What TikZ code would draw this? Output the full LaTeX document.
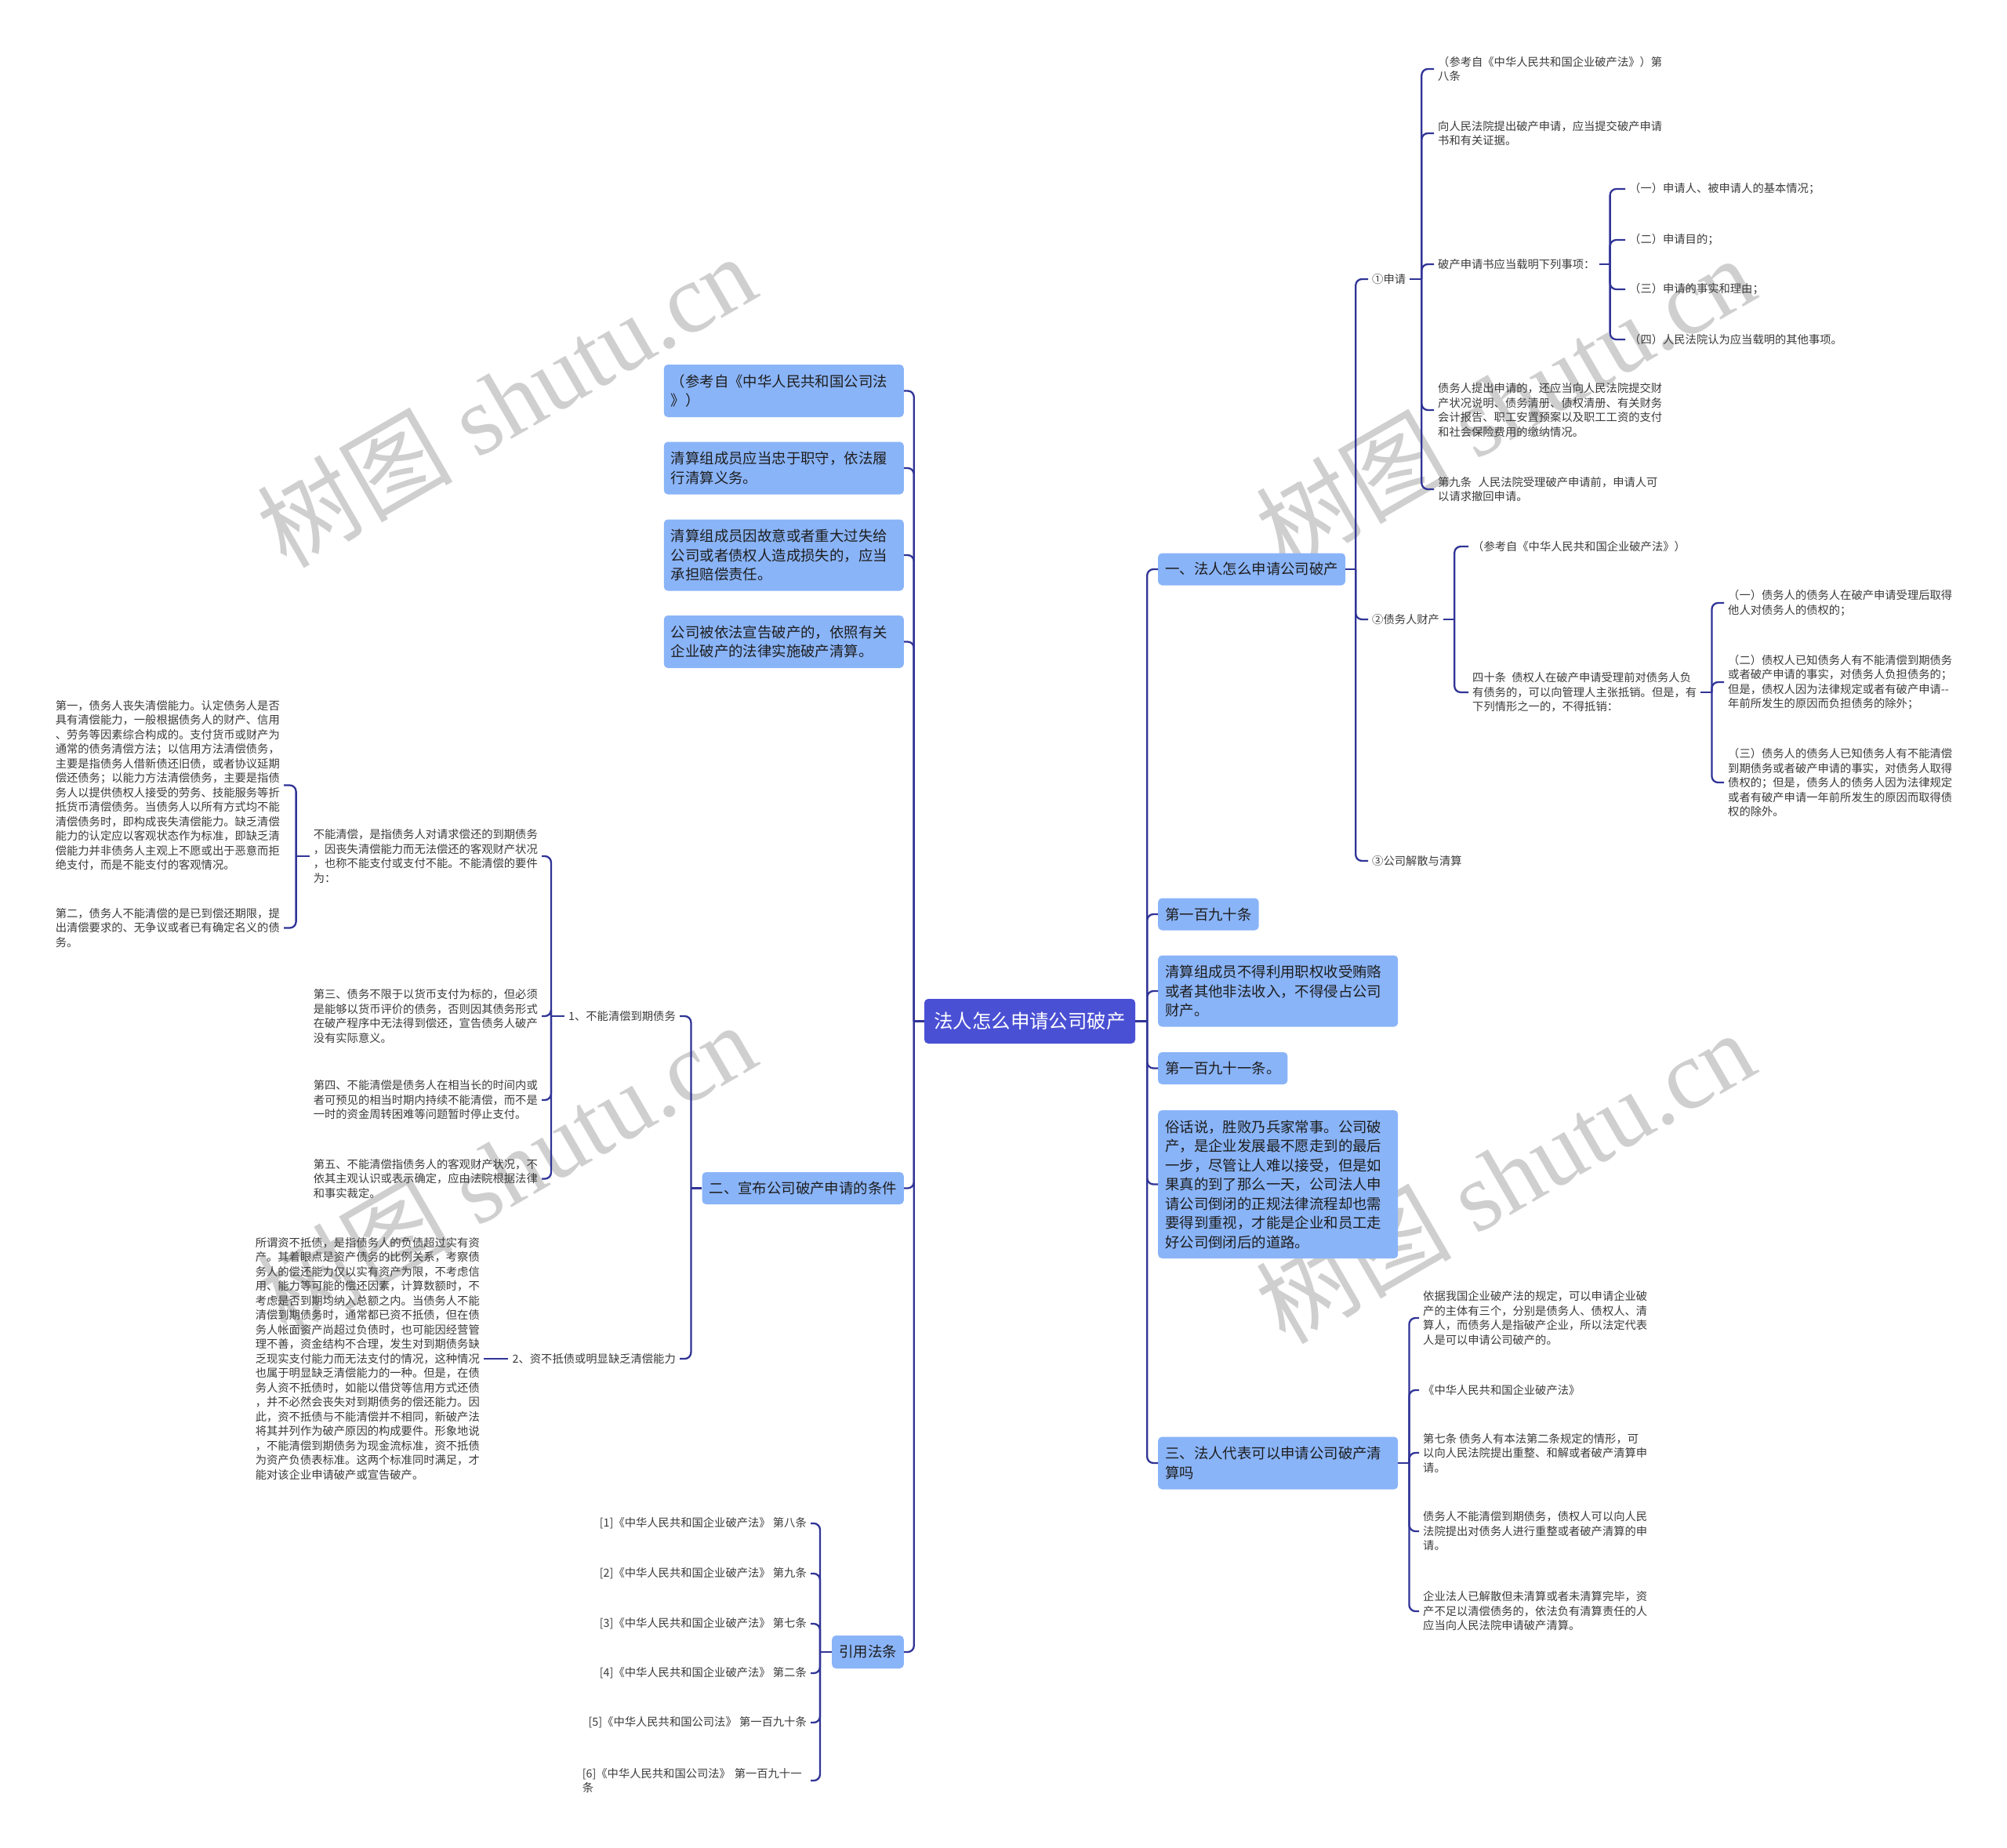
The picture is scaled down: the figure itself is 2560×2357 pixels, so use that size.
\documentclass[tikz,border=0pt]{standalone}
\usepackage{fontspec}
\setmainfont{Noto Sans CJK SC}
\newfontfamily\wmlatin{Liberation Serif}
\definecolor{lineblue}{RGB}{48,52,150}
\definecolor{boxblue}{RGB}{138,180,248}
\definecolor{rootblue}{RGB}{74,80,212}
\definecolor{txtgray}{RGB}{58,58,58}
\definecolor{txtdark}{RGB}{30,30,30}
\begin{document}
\begin{tikzpicture}[x=1pt,y=-1pt,
  conn/.style={draw=lineblue,line width=2.3pt,rounded corners=8pt},
  sm/.style={font=\fontsize{14.3}{18.5}\selectfont,text=txtgray,align=left,inner xsep=5pt,inner ysep=2pt},
  bb/.style={fill=boxblue,rounded corners=5pt,font=\fontsize{18.4}{24.5}\selectfont,text=txtdark,inner xsep=9pt,inner ysep=0pt,minimum height=41pt},
  bbm/.style={bb,text width=288pt,align=left},
  rootbox/.style={fill=rootblue,rounded corners=5pt,font=\fontsize{24.4}{30}\selectfont,text=white,minimum width=269pt,minimum height=57pt},
  wm/.style={text=black!19,rotate=30,inner sep=0pt,font=\fontsize{125}{130}\selectfont}]
\useasboundingbox (0,0) rectangle (2560,2357);
% watermarks
\begin{scope}
\clip (0,0) rectangle (2560,2357);
\node[wm] (wm1) at (645,510) {树图\hspace{0.25em}{\wmlatin shutu.cn}};
\node[wm] (wm2) at (645,1490) {树图\hspace{0.25em}{\wmlatin shutu.cn}};
\node[wm] (wm3) at (1919,512) {树图\hspace{0.25em}{\wmlatin shutu.cn}};
\node[wm] (wm4) at (1919,1500) {树图\hspace{0.25em}{\wmlatin shutu.cn}};
\node[wm] (wm5) at (650,2560) {树图\hspace{0.25em}{\wmlatin shutu.cn}};
\node[wm] (wm6) at (1924,2565) {树图\hspace{0.25em}{\wmlatin shutu.cn}};
\end{scope}
% root
\node[rootbox] (root) at (1313.5,1302.5) {法人怎么申请公司破产};
% right level 1
\node[bb,anchor=west] (r1) at (1477,726) {一、法人怎么申请公司破产};
\node[bb,anchor=west] (r2) at (1477,1166) {第一百九十条};
\node[bbm,anchor=west,minimum height=91pt] (r3) at (1477,1264) {清算组成员不得利用职权收受贿赂\\或者其他非法收入，不得侵占公司\\财产。};
\node[bb,anchor=west] (r4) at (1477,1362.5) {第一百九十一条。};
\node[bbm,anchor=west,minimum height=189pt] (r5) at (1477,1510.5) {俗话说，胜败乃兵家常事。公司破\\产，是企业发展最不愿走到的最后\\一步，尽管让人难以接受，但是如\\果真的到了那么一天，公司法人申\\请公司倒闭的正规法律流程却也需\\要得到重视，才能是企业和员工走\\好公司倒闭后的道路。};
\node[bbm,anchor=west,minimum height=67pt] (r6) at (1477,1866) {三、法人代表可以申请公司破产清\\算吗};
% left level 1
\node[bbm,anchor=east,minimum height=67pt] (l1) at (1153,498.5) {（参考自《中华人民共和国公司法\\》）};
\node[bbm,anchor=east,minimum height=67pt] (l2) at (1153,597) {清算组成员应当忠于职守，依法履\\行清算义务。};
\node[bbm,anchor=east,minimum height=91pt] (l3) at (1153,708) {清算组成员因故意或者重大过失给\\公司或者债权人造成损失的，应当\\承担赔偿责任。};
\node[bbm,anchor=east,minimum height=67pt] (l4) at (1153,818.5) {公司被依法宣告破产的，依照有关\\企业破产的法律实施破产清算。};
\node[bb,anchor=east] (l5) at (1153,1515.5) {二、宣布公司破产申请的条件};
\node[bb,anchor=east,minimum height=42pt] (l6) at (1153,2107) {引用法条};
% right: under r1
\node[sm,anchor=west] (s1) at (1745,356) {①申请};
\node[sm,anchor=west] (s2) at (1745,790) {②债务人财产};
\node[sm,anchor=west] (s3) at (1745,1098) {③公司解散与清算};
\node[sm,anchor=west] (a1) at (1829,88) {（参考自《中华人民共和国企业破产法》）第\\八条};
\node[sm,anchor=west] (a2) at (1829,170) {向人民法院提出破产申请，应当提交破产申请\\书和有关证据。};
\node[sm,anchor=west] (a3) at (1829,337) {破产申请书应当载明下列事项：};
\node[sm,anchor=west] (a4) at (1829,523) {债务人提出申请的，还应当向人民法院提交财\\产状况说明、债务清册、债权清册、有关财务\\会计报告、职工安置预案以及职工工资的支付\\和社会保险费用的缴纳情况。};
\node[sm,anchor=west] (a5) at (1829,624) {第九条\hspace{0.6em}人民法院受理破产申请前，申请人可\\以请求撤回申请。};
\node[sm,anchor=west] (c1) at (2073,241) {（一）申请人、被申请人的基本情况；};
\node[sm,anchor=west] (c2) at (2073,306) {（二）申请目的；};
\node[sm,anchor=west] (c3) at (2073,369) {（三）申请的事实和理由；};
\node[sm,anchor=west] (c4) at (2073,433) {（四）人民法院认为应当载明的其他事项。};
\node[sm,anchor=west] (b1) at (1873,697) {（参考自《中华人民共和国企业破产法》）};
\node[sm,anchor=west] (b2) at (1873,883) {四十条\hspace{0.5em}债权人在破产申请受理前对债务人负\\有债务的，可以向管理人主张抵销。但是，有\\下列情形之一的，不得抵销：};
\node[sm,anchor=west] (d1) at (2199,769) {（一）债务人的债务人在破产申请受理后取得\\他人对债务人的债权的；};
\node[sm,anchor=west] (d2) at (2199,870) {（二）债权人已知债务人有不能清偿到期债务\\或者破产申请的事实，对债务人负担债务的；\\但是，债权人因为法律规定或者有破产申请-{}-\\年前所发生的原因而负担债务的除外；};
\node[sm,anchor=west] (d3) at (2199,998) {（三）债务人的债务人已知债务人有不能清偿\\到期债务或者破产申请的事实，对债务人取得\\债权的；但是，债务人的债务人因为法律规定\\或者有破产申请一年前所发生的原因而取得债\\权的除外。};
% right: under r6
\node[sm,anchor=west] (e1) at (1810,1681) {依据我国企业破产法的规定，可以申请企业破\\产的主体有三个，分别是债务人、债权人、清\\算人，而债务人是指破产企业，所以法定代表\\人是可以申请公司破产的。};
\node[sm,anchor=west] (e2) at (1810,1773) {《中华人民共和国企业破产法》};
\node[sm,anchor=west] (e3) at (1810,1853) {第七条 债务人有本法第二条规定的情形，可\\以向人民法院提出重整、和解或者破产清算申\\请。};
\node[sm,anchor=west] (e4) at (1810,1953) {债务人不能清偿到期债务，债权人可以向人民\\法院提出对债务人进行重整或者破产清算的申\\请。};
\node[sm,anchor=west] (e5) at (1810,2055) {企业法人已解散但未清算或者未清算完毕，资\\产不足以清偿债务的，依法负有清算责任的人\\应当向人民法院申请破产清算。};
% left: under l5
\node[sm,anchor=east] (n1) at (867,1296) {1、不能清偿到期债务};
\node[sm,anchor=east] (n2) at (867,1733) {2、资不抵债或明显缺乏清偿能力};
\node[sm,anchor=east] (f1) at (691,1092) {不能清偿，是指债务人对请求偿还的到期债务\\，因丧失清偿能力而无法偿还的客观财产状况\\，也称不能支付或支付不能。不能清偿的要件\\为：};
\node[sm,anchor=east] (f2) at (691,1296) {第三、债务不限于以货币支付为标的，但必须\\是能够以货币评价的债务，否则因其债务形式\\在破产程序中无法得到偿还，宣告债务人破产\\没有实际意义。};
\node[sm,anchor=east] (f3) at (691,1403) {第四、不能清偿是债务人在相当长的时间内或\\者可预见的相当时期内持续不能清偿，而不是\\一时的资金周转困难等问题暂时停止支付。};
\node[sm,anchor=east] (f4) at (691,1503.5) {第五、不能清偿指债务人的客观财产状况，不\\依其主观认识或表示确定，应由法院根据法律\\和事实裁定。};
\node[sm,anchor=east] (g1) at (362,1001.5) {第一，债务人丧失清偿能力。认定债务人是否\\具有清偿能力，一般根据债务人的财产、信用\\、劳务等因素综合构成的。支付货币或财产为\\通常的债务清偿方法；以信用方法清偿债务，\\主要是指债务人借新债还旧债，或者协议延期\\偿还债务；以能力方法清偿债务，主要是指债\\务人以提供债权人接受的劳务、技能服务等折\\抵货币清偿债务。当债务人以所有方式均不能\\清偿债务时，即构成丧失清偿能力。缺乏清偿\\能力的认定应以客观状态作为标准，即缺乏清\\偿能力并非债务人主观上不愿或出于恶意而拒\\绝支付，而是不能支付的客观情况。};
\node[sm,anchor=east] (g2) at (362,1183.5) {第二，债务人不能清偿的是已到偿还期限，提\\出清偿要求的、无争议或者已有确定名义的债\\务。};
\node[sm,anchor=east] (suo) at (617,1733) {所谓资不抵债，是指债务人的负债超过实有资\\产。其着眼点是资产债务的比例关系，考察债\\务人的偿还能力仅以实有资产为限，不考虑信\\用、能力等可能的偿还因素，计算数额时，不\\考虑是否到期均纳入总额之内。当债务人不能\\清偿到期债务时，通常都已资不抵债，但在债\\务人帐面资产尚超过负债时，也可能因经营管\\理不善，资金结构不合理，发生对到期债务缺\\乏现实支付能力而无法支付的情况，这种情况\\也属于明显缺乏清偿能力的一种。但是，在债\\务人资不抵债时，如能以借贷等信用方式还债\\，并不必然会丧失对到期债务的偿还能力。因\\此，资不抵债与不能清偿并不相同，新破产法\\将其并列作为破产原因的构成要件。形象地说\\，不能清偿到期债务为现金流标准，资不抵债\\为资产负债表标准。这两个标准同时满足，才\\能对该企业申请破产或宣告破产。};
% left: under l6
\node[sm,anchor=east] (k1) at (1034,1943) {[1]《中华人民共和国企业破产法》 第八条};
\node[sm,anchor=east] (k2) at (1034,2007) {[2]《中华人民共和国企业破产法》 第九条};
\node[sm,anchor=east] (k3) at (1034,2071) {[3]《中华人民共和国企业破产法》 第七条};
\node[sm,anchor=east] (k4) at (1034,2134) {[4]《中华人民共和国企业破产法》 第二条};
\node[sm,anchor=east] (k5) at (1034,2197) {[5]《中华人民共和国公司法》 第一百九十条};
\node[sm,anchor=east,text width=286pt] (k6) at (1034,2271) {[6]《中华人民共和国公司法》 第一百九十一\\条};
% connectors: root
\draw[conn] (root.east) -- ++(15,0) coordinate (jr);
\foreach \nn in {r1,r2,r3,r4,r5,r6} \draw[conn] (jr) |- (\nn.west);
\draw[conn] (root.west) -- ++(-13,0) coordinate (jl);
\foreach \nn in {l1,l2,l3,l4,l5,l6} \draw[conn] (jl) |- (\nn.east);
% r1
\draw[conn] (r1.east) -- ++(13,0) coordinate (j1);
\foreach \nn in {s1,s2,s3} \draw[conn] (j1) |- (\nn.west);
\draw[conn] (s1.east) -- ++(15,0) coordinate (js1);
\foreach \nn in {a1,a2,a3,a4,a5} \draw[conn] (js1) |- (\nn.west);
\draw[conn] (a3.east) -- ++(14,0) coordinate (ja3);
\foreach \nn in {c1,c2,c3,c4} \draw[conn] (ja3) |- (\nn.west);
\draw[conn] (s2.east) -- ++(14,0) coordinate (js2);
\foreach \nn in {b1,b2} \draw[conn] (js2) |- (\nn.west);
\draw[conn] (b2.east) -- ++(14,0) coordinate (jb2);
\foreach \nn in {d1,d2,d3} \draw[conn] (jb2) |- (\nn.west);
% r6
\draw[conn] (r6.east) -- ++(14,0) coordinate (jr6);
\foreach \nn in {e1,e2,e3,e4,e5} \draw[conn] (jr6) |- (\nn.west);
% l5
\draw[conn] (l5.west) -- ++(-14,0) coordinate (jl5);
\foreach \nn in {n1,n2} \draw[conn] (jl5) |- (\nn.east);
\draw[conn] (n1.west) -- ++(-17,0) coordinate (jn1);
\foreach \nn in {f1,f2,f3,f4} \draw[conn] (jn1) |- (\nn.east);
\draw[conn] (f1.west) -- ++(-17,0) coordinate (jf1);
\foreach \nn in {g1,g2} \draw[conn] (jf1) |- (\nn.east);
\draw[conn] (suo.east) -- (n2.west);
% l6
\draw[conn] (l6.west) -- ++(-15,0) coordinate (jl6);
\foreach \nn in {k1,k2,k3,k4,k5,k6} \draw[conn] (jl6) |- (\nn.east);
\end{tikzpicture}
\end{document}
